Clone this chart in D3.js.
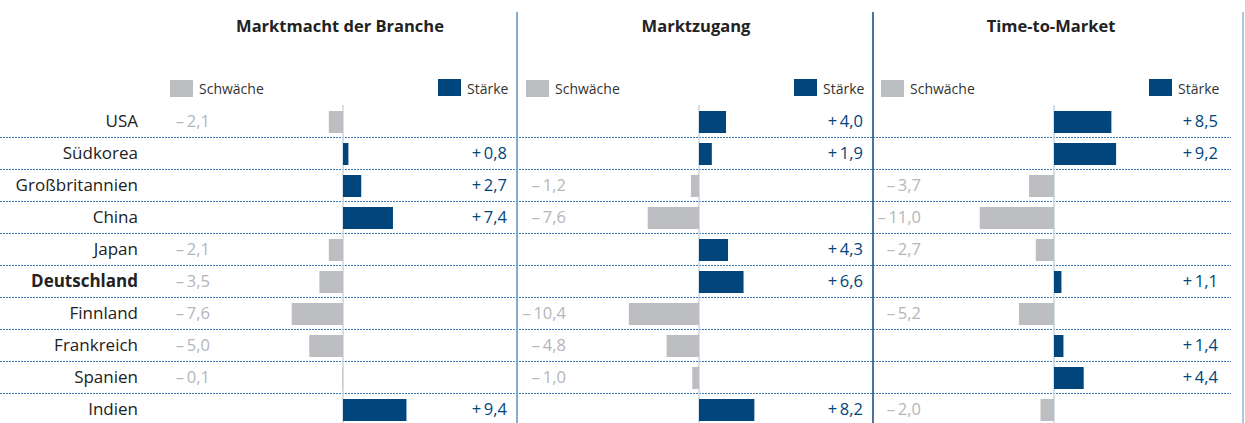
<!DOCTYPE html>
<html>
<head>
<meta charset="utf-8">
<script src="https://cdn.jsdelivr.net/npm/d3@7"></script>
<style>
  body { margin: 0; background: #fff; }
  svg { display: block; font-family: "Open Sans", "Noto Sans", sans-serif; }
</style>
</head>
<body>
<div class="chart"></div>
<script>
const countries = ["USA", "Südkorea", "Großbritannien", "China", "Japan",
                   "Deutschland", "Finnland", "Frankreich", "Spanien", "Indien"];

const panelTitles = ["Marktmacht der Branche", "Marktzugang", "Time-to-Market"];

const marktmacht  = [-2.1, 0.8, 2.7, 7.4, -2.1, -3.5, -7.6, -5.0, -0.1, 9.4];
const marktzugang = [4.0, 1.9, -1.2, -7.6, 4.3, 6.6, -10.4, -4.8, -1.0, 8.2];
const timeToMarket = [8.5, 9.2, -3.7, -11.0, -2.7, 1.1, -5.2, 1.4, 4.4, -2.0];

const legendLabels = ["Schwäche", "Stärke"];

const series = [marktmacht, marktzugang, timeToMarket];

const W = 1245, H = 423;
const navy = "#00457c", grey = "#bcbec2", greyText = "#b4b6ba";
const zeros = [343, 699, 1054];   // Nulllinie je Panel

const svg = d3.select(".chart").append("svg")
  .attr("width", W).attr("height", H);

const y = d3.scaleBand().domain(countries).range([105, 425]);

// Zahlenformat: "+ 0,8" / "– 2,1"
function fmt(v) {
  const s = Math.abs(v).toFixed(1).replace(".", ",");
  return (v < 0 ? "\u2013\u2009" : "+\u2009") + s;
}

// pointillés entre les lignes
svg.append("g").selectAll("line")
  .data(countries.slice(1))
  .enter().append("line")
  .attr("x1", 0).attr("x2", 1231)
  .attr("y1", d => y(d) + 0.5).attr("y2", d => y(d) + 0.5)
  .attr("stroke", "#3f7cb4")
  .attr("stroke-width", 1)
  .attr("stroke-dasharray", "2,1");

// séparateurs verticaux
const seps = [{x: 517, c: "#6f95bd"}, {x: 873, c: "#1d4f80"}, {x: 1243, c: "#9db8d2"}];
svg.append("g").selectAll("line")
  .data(seps)
  .enter().append("line")
  .attr("x1", d => d.x).attr("x2", d => d.x)
  .attr("y1", 12).attr("y2", H)
  .attr("stroke", d => d.c)
  .attr("stroke-width", 1.6);

// Ländernamen
svg.append("g").selectAll("text")
  .data(countries)
  .enter().append("text")
  .attr("x", 138)
  .attr("y", d => y(d) + y.bandwidth() / 2 + 6)
  .attr("text-anchor", "end")
  .attr("font-size", 17)
  .attr("font-weight", d => d === "Deutschland" ? 700 : 400)
  .attr("fill", "#222")
  .text(d => d);

series.forEach(function(values, p) {
  const z = zeros[p];
  const x = d3.scaleLinear().domain([-12, 12]).range([z - 81, z + 81]);
  const g = svg.append("g");

  // titre
  g.append("text")
    .attr("x", z - 3).attr("y", 32)
    .attr("text-anchor", "middle")
    .attr("font-size", 16.5)
    .attr("font-weight", 700)
    .attr("fill", "#222")
    .text(panelTitles[p]);

  // légende
  const lg = [
    {label: legendLabels[0], color: grey, x: z - 173, y: 80},
    {label: legendLabels[1], color: navy, x: z + 95, y: 79}
  ];
  g.selectAll(".lgbox").data(lg).enter().append("rect")
    .attr("x", d => d.x).attr("y", d => d.y)
    .attr("width", 23).attr("height", 17)
    .attr("fill", d => d.color);
  g.selectAll(".lgtext").data(lg).enter().append("text")
    .attr("x", d => d.x + 29).attr("y", 94)
    .attr("font-size", 14)
    .attr("fill", "#333")
    .text(d => d.label);

  // ligne zéro
  g.append("line")
    .attr("x1", x(0)).attr("x2", x(0))
    .attr("y1", 105).attr("y2", H)
    .attr("stroke", "#c9d6e2").attr("stroke-width", 1.5);

  const data = countries.map((c, i) => ({c: c, v: values[i]}));

  // barres
  g.selectAll(".bar").data(data).enter().append("rect")
    .attr("x", d => x(Math.min(0, d.v)))
    .attr("width", d => Math.abs(x(d.v) - x(0)))
    .attr("y", d => y(d.c) + 6)
    .attr("height", 22)
    .attr("fill", d => d.v < 0 ? grey : navy);

  // valeurs
  g.selectAll(".val").data(data).enter().append("text")
    .attr("x", d => d.v < 0 ? z - 133 : z + 164)
    .attr("y", d => y(d.c) + y.bandwidth() / 2 + 6)
    .attr("text-anchor", "end")
    .attr("font-size", 16.5)
    .attr("fill", d => d.v < 0 ? greyText : navy)
    .text(d => fmt(d.v));
});
</script>
</body>
</html>
